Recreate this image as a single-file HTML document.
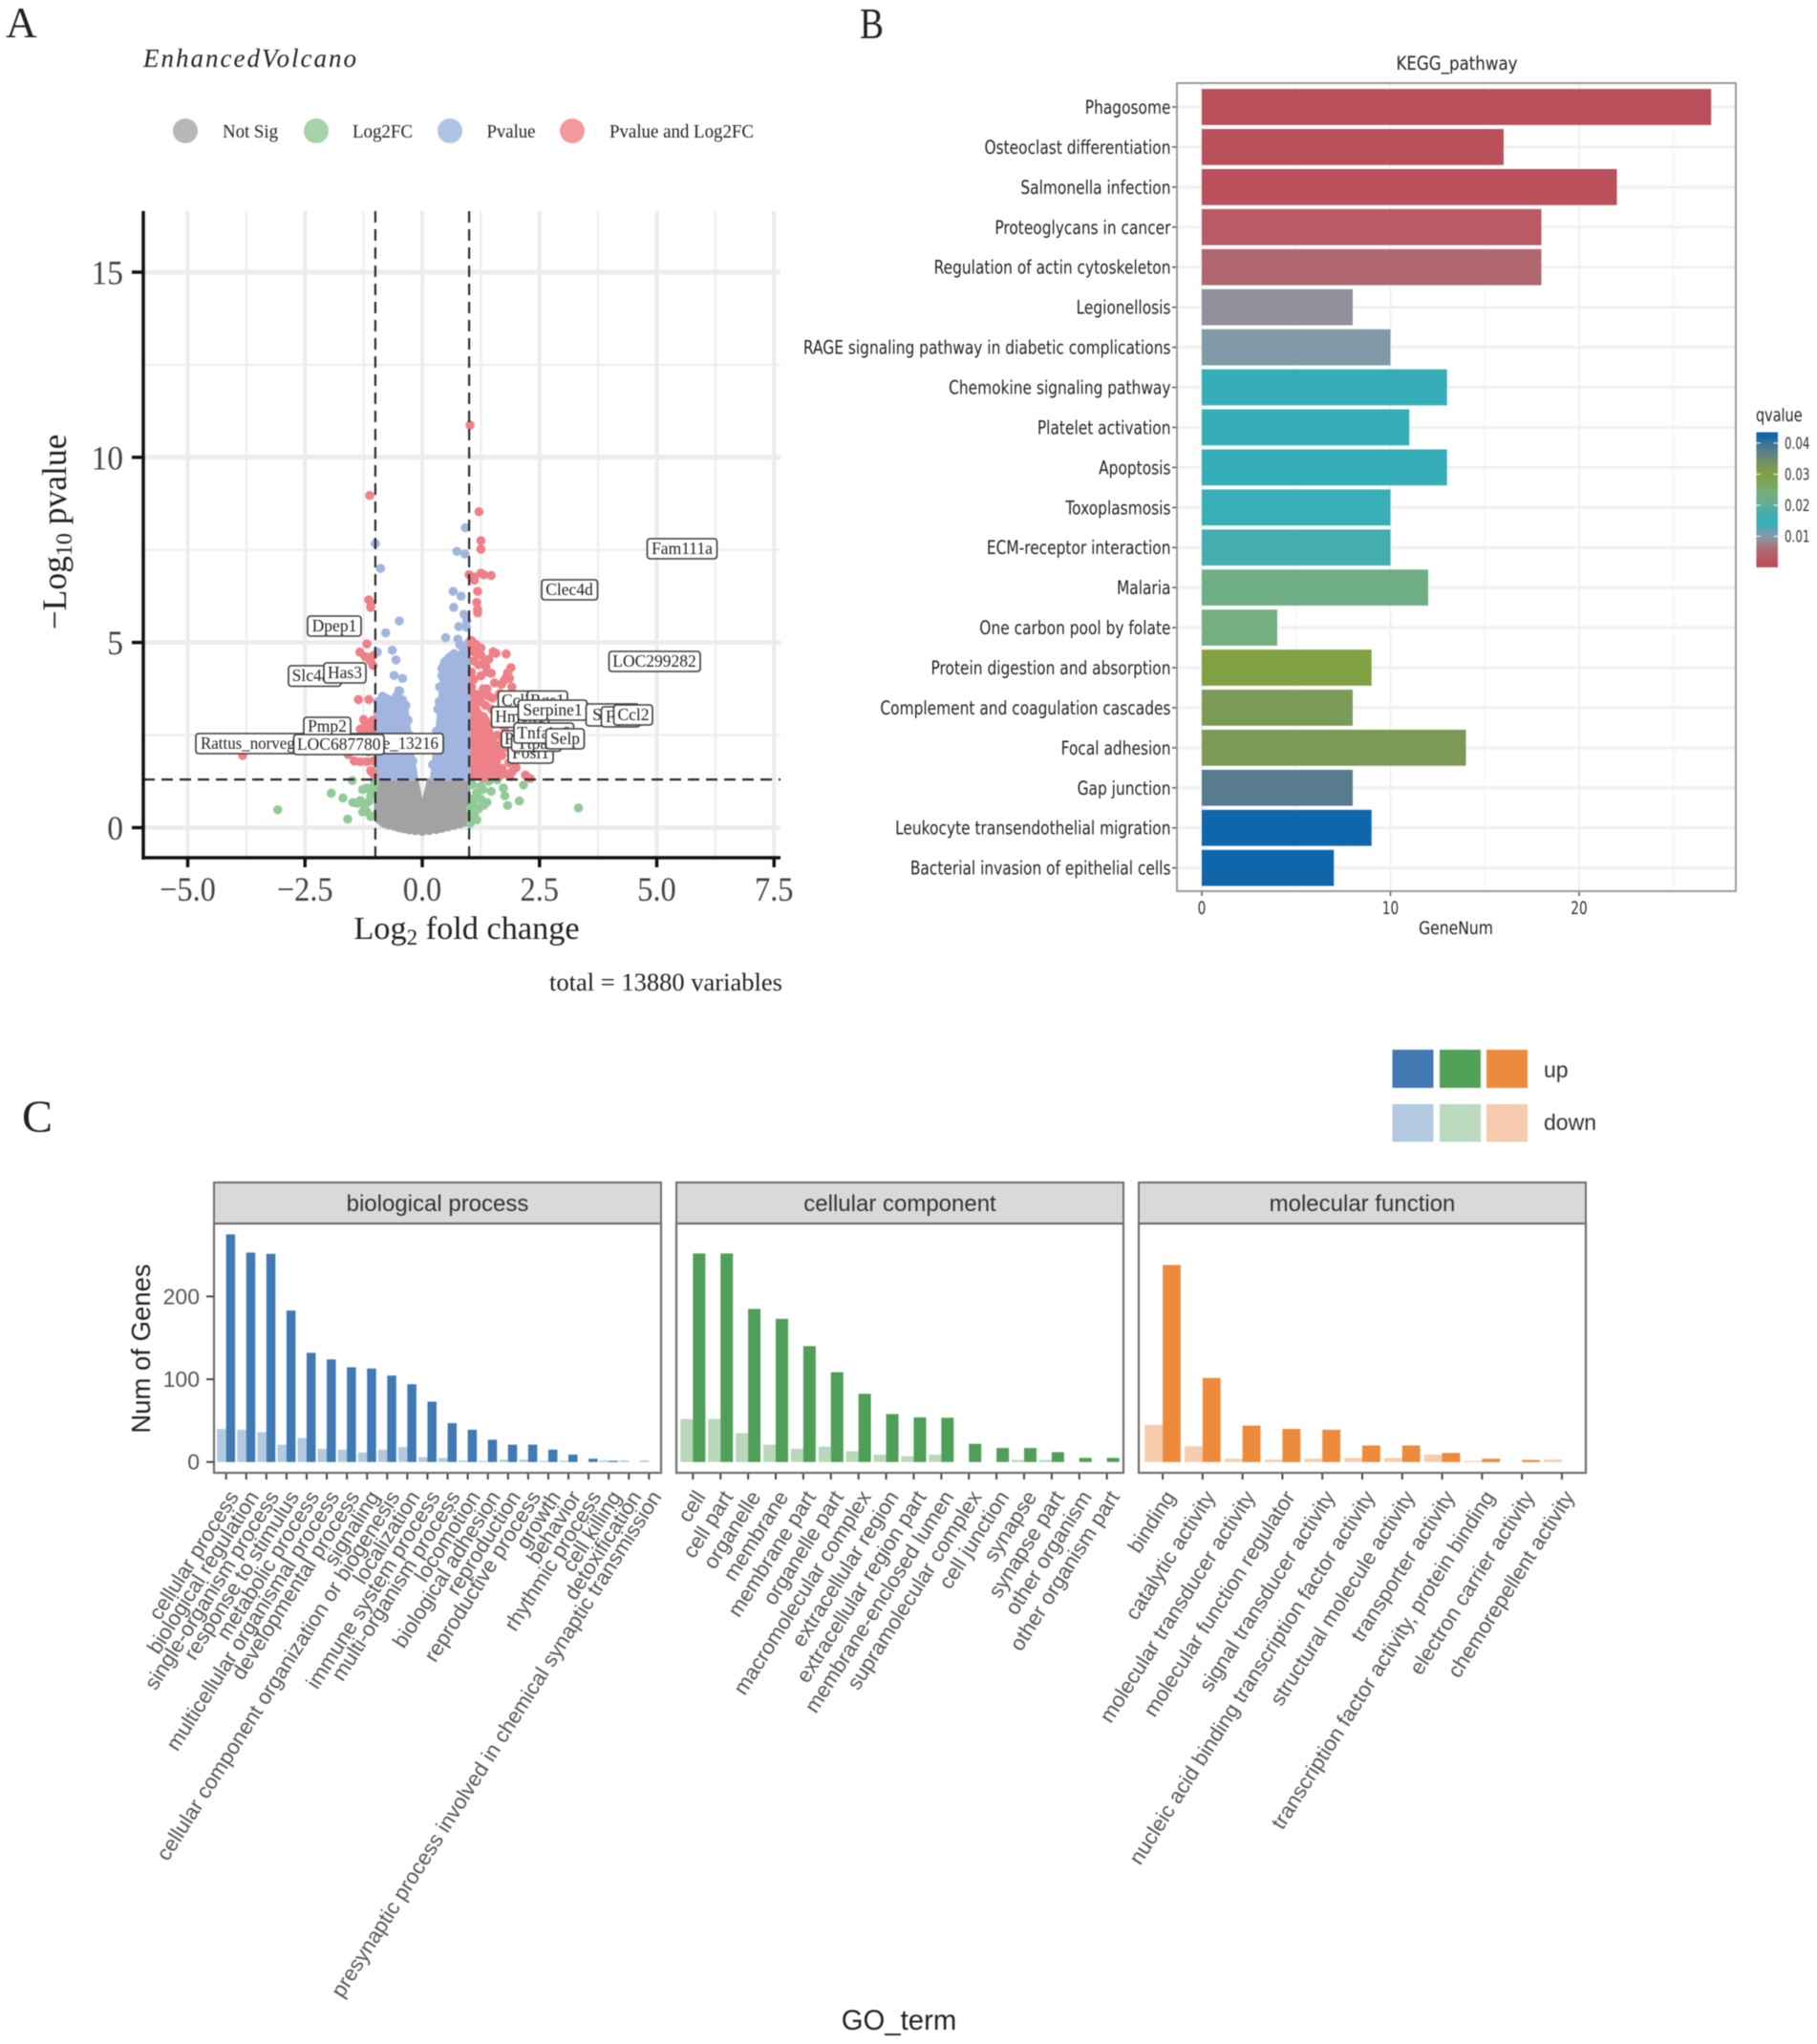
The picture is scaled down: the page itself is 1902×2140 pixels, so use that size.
<!DOCTYPE html>
<html lang="en">
<head>
<meta charset="utf-8">
<title>Volcano, KEGG and GO charts</title>
<style>
html,body{margin:0;padding:0;background:#fff;width:1902px;height:2140px;overflow:hidden}
#figure{display:block;filter:blur(0.5px)}
.serif{font-family:"Liberation Serif",serif}
.sans{font-family:"Liberation Sans",sans-serif}
.dejavu{font-family:"DejaVu Sans",sans-serif}
.gene rect{fill:#fff;stroke:#3a3a3a;stroke-width:1.6}
.gene text{font-family:"Liberation Serif",serif;font-size:17.5px;fill:#222;text-anchor:middle}
</style>
</head>
<body>
<svg id="figure" xmlns="http://www.w3.org/2000/svg" width="1902" height="2140" viewBox="0 0 1902 2140">
  <rect x="0" y="0" width="1902" height="2140" fill="#fff"/>
  <text class="serif" x="6" y="39" font-size="45" fill="#222">A</text>
  <text class="serif" x="900" y="40" font-size="45" fill="#222" textLength="25" lengthAdjust="spacingAndGlyphs">B</text>
  <text class="serif" x="23" y="1185" font-size="48" fill="#222">C</text>

  <text class="serif" x="150" y="70" font-size="27" font-style="italic" fill="#222" textLength="223" lengthAdjust="spacing">EnhancedVolcano</text>
  <g class="serif" font-size="20" fill="#222">
    <circle cx="194" cy="137" r="13" fill="#b7b7b7"/>
    <text x="233" y="144" textLength="58" lengthAdjust="spacingAndGlyphs">Not Sig</text>
    <circle cx="331" cy="137" r="13" fill="#a6d3a8"/>
    <text x="369" y="144" textLength="63" lengthAdjust="spacingAndGlyphs">Log2FC</text>
    <circle cx="471" cy="137" r="13" fill="#b1c4e6"/>
    <text x="509.5" y="144" textLength="51" lengthAdjust="spacingAndGlyphs">Pvalue</text>
    <circle cx="599" cy="137" r="13" fill="#f39a9d"/>
    <text x="638" y="144" textLength="151" lengthAdjust="spacingAndGlyphs">Pvalue and Log2FC</text>
  </g>
  <g id="volcano-grid"></g>
  <g id="volcano-density"></g>
  <g id="volcano-points"></g>
  <g id="volcano-axes"></g>
  <text class="serif" transform="translate(69,557) rotate(-90)" text-anchor="middle" font-size="35.5" fill="#222">−Log<tspan font-size="24" dy="6">10</tspan><tspan dy="-6"> pvalue</tspan></text>
  <text class="serif" x="488.5" y="983" text-anchor="middle" font-size="34.3" fill="#222">Log<tspan font-size="23" dy="6">2</tspan><tspan dy="-6"> fold change</tspan></text>
  <text class="serif" x="575" y="1037" font-size="26" fill="#222" textLength="244" lengthAdjust="spacingAndGlyphs">total = 13880 variables</text>

  <g>
    <g class="gene"><rect x="205" y="768" width="259" height="21" rx="3"/><text x="334.5" y="784" textLength="249" lengthAdjust="spacingAndGlyphs">Rattus_norvegicus_newGene_13216</text></g>
    <g class="gene"><rect x="318" y="751" width="49" height="21" rx="3"/><text x="342.5" y="766">Pmp2</text></g>
    <g class="gene"><rect x="307.5" y="769" width="94.5" height="21" rx="3"/><text x="354.7" y="785">LOC687780</text></g>
    <g class="gene"><rect x="302" y="697" width="55" height="21.5" rx="3"/><text x="329.5" y="713">Slc4a1</text></g>
    <g class="gene"><rect x="339" y="694" width="44" height="21" rx="3"/><text x="361" y="710">Has3</text></g>
    <g class="gene"><rect x="322" y="645" width="56" height="21" rx="3"/><text x="350" y="661">Dpep1</text></g>
    <g class="gene"><rect x="677.5" y="564" width="73" height="21" rx="3"/><text x="714" y="580">Fam111a</text></g>
    <g class="gene"><rect x="567" y="607" width="58.5" height="21" rx="3"/><text x="596" y="623">Clec4d</text></g>
    <g class="gene"><rect x="637.5" y="682" width="95.5" height="21" rx="3"/><text x="685" y="698">LOC299282</text></g>
    <g class="gene"><rect x="521.5" y="723.5" width="40" height="20" rx="3"/><text x="541.5" y="739">Ccl7</text></g>
    <g class="gene"><rect x="552" y="723.5" width="42" height="17" rx="3"/><text x="573" y="739">Rgs1</text></g>
    <g class="gene"><rect x="514.5" y="740" width="60" height="21.5" rx="3"/><text x="544.5" y="756">Hmox1</text></g>
    <g class="gene"><rect x="542.5" y="733" width="72" height="21" rx="3"/><text x="578.5" y="749">Serpine1</text></g>
    <g class="gene"><rect x="613.5" y="737" width="55.5" height="23" rx="3"/><text x="641" y="754">Socs3</text></g>
    <g class="gene"><rect x="629.5" y="740" width="40.5" height="21" rx="3"/><text x="650" y="756">Fgl2</text></g>
    <g class="gene"><rect x="642.5" y="738" width="40.5" height="21" rx="3"/><text x="663" y="754">Ccl2</text></g>
    <g class="gene"><rect x="532" y="778" width="47" height="21" rx="3"/><text x="555.5" y="794">Fosl1</text></g>
    <g class="gene"><rect x="525" y="765" width="45.5" height="17.5" rx="3"/><text x="547.5" y="779">Ptgs2</text></g>
    <g class="gene"><rect x="535.5" y="770" width="52" height="16.5" rx="3"/><text x="561.5" y="784">Ttpa1</text></g>
    <g class="gene"><rect x="538" y="757" width="62.5" height="21" rx="3"/><text x="569" y="773">Tnfaip6</text></g>
    <g class="gene"><rect x="571.5" y="763" width="40" height="21" rx="3"/><text x="591.5" y="779">Selp</text></g>
  </g>

  <text class="dejavu" transform="translate(1525,73) scale(0.85,1)" text-anchor="middle" font-size="19.6" fill="#222">KEGG_pathway</text>
  <g id="kegg-chart"></g>
  <text class="dejavu" transform="translate(1524,978) scale(0.82,1)" text-anchor="middle" font-size="19" fill="#222">GeneNum</text>
  <text class="dejavu" transform="translate(1838,441) scale(0.76,1)" font-size="19" fill="#222">qvalue</text>
  <defs><linearGradient id="qvalue-gradient" x1="0" y1="0" x2="0" y2="1"></linearGradient></defs>
  <rect x="1838.5" y="452.5" width="22.5" height="141.5" fill="url(#qvalue-gradient)"/>
  <g id="qvalue-ticks"></g>

  <g>
    <rect x="1457.5" y="1099" width="43" height="40" fill="#4379b2"/>
    <rect x="1507" y="1099" width="43" height="40" fill="#52a159"/>
    <rect x="1556" y="1099" width="43" height="40" fill="#ed8b3d"/>
    <rect x="1457.5" y="1156" width="43" height="39.5" fill="#b3c9e0"/>
    <rect x="1507" y="1156" width="43" height="39.5" fill="#bbd9bc"/>
    <rect x="1556" y="1156" width="43" height="39.5" fill="#f7ccae"/>
    <text class="sans" x="1616" y="1128" font-size="23" fill="#333">up</text>
    <text class="sans" x="1616" y="1183" font-size="23" fill="#333">down</text>
  </g>
  <g id="go-chart"></g>
  <text class="sans" transform="translate(157,1412) rotate(-90)" text-anchor="middle" font-size="27.5" fill="#222">Num of Genes</text>
  <text class="sans" x="941" y="2125" text-anchor="middle" font-size="29.3" fill="#222">GO_term</text>
</svg>
<script>
/* ---------- Volcano data: [log2 fold change, -log10 p] ---------- */
const volcanoRed = [
[1.02,10.87],[-1.12,8.97],[1.21,8.53],[1.25,7.75],[1.25,7.52],[1.0,6.83],[1.11,6.68],[1.25,6.87],[1.31,6.83],[1.47,6.81],[1.11,6.77],
[1.18,6.38],[1.16,6.08],[1.18,5.8],[1.18,5.89],[-1.14,6.15],[-1.10,5.95],[-1.09,6.05],[-1.18,4.96],[-1.33,4.74],[-1.18,4.6],[-1.05,4.64],
[-1.11,4.51],[-1.05,4.38],[-1.22,4.62],[-1.36,3.46],[-1.14,3.46],[-1.25,2.92],[-1.22,2.85],[-1.32,2.66],[-1.18,2.66],[-1.08,2.7],[-1.05,2.9],
[-1.28,2.5],[-1.15,2.5],[-1.05,2.5],[-1.42,2.4],[-1.2,2.35],[-1.1,2.3],[-1.03,2.2],[-1.5,2.1],[-1.58,1.97],[-1.3,2.1],[-1.15,2.05],[-1.45,1.8],
[-1.32,1.78],[-1.18,1.78],[-1.05,1.8],[-1.1,1.54],[-1.04,1.45],[-3.83,1.95],
[1.51,4.75],[1.57,4.71],[1.79,4.69],[1.33,4.47],[1.89,4.32],[1.38,4.2],[1.47,4.17],[1.8,4.08],[1.86,4.03],[1.91,3.8],[1.54,3.91],[1.69,3.87],
[1.15,4.95],[1.25,4.85],[1.1,4.75],[1.25,4.65],[1.42,4.55],[1.36,4.35],[1.82,4.18],[1.75,3.98],[1.65,3.62],[1.5,3.5],[1.72,3.3],[1.95,3.5],
[1.62,2.9],[1.75,2.7],[1.85,2.4],[1.95,2.3],[1.82,2.15],[1.9,1.95],[2.0,1.62],[1.85,1.75],[1.92,1.52],[1.7,1.6],[1.78,1.45],[1.87,1.38],[2.3,1.33],[2.2,1.42],
[1.48,3.2],[1.55,3.05],[1.6,2.5],[1.72,2.35],[1.66,2.15],[1.7,1.95],[1.58,1.7],[1.65,1.4],[1.45,1.4],[1.3,1.35],[1.48,1.62],[1.35,2.9],[1.44,2.75],[1.55,2.25],[1.42,2.05],[1.3,3.6],[1.38,3.75],
[1.05,4.9],[1.1,4.5],[1.05,4.2],[1.2,4.4],[1.1,4.0],[1.25,4.1],[1.05,3.8],[1.3,3.75],[1.15,3.6],[1.25,3.4],[1.35,3.3],[1.42,3.55],[1.3,3.0],[1.18,4.7],[1.05,5.05]
];
const volcanoBlue = [
[0.92,8.1],[-1.0,7.67],[0.74,7.46],[0.91,7.39],[-0.89,7.0],[0.66,6.38],[0.83,6.25],[0.67,5.95],[0.89,5.76],[0.95,5.58],[0.78,5.43],[0.94,5.41],
[-0.49,5.58],[-0.78,5.26],[0.50,5.13],[0.76,5.09],[0.8,4.94],[0.89,4.81],[-0.64,4.79],[-0.96,4.74],[-0.56,4.53],[-0.6,4.11],[-0.42,4.03],[-0.48,3.69],[-0.95,3.1],[-0.66,3.0],[0.47,4.45],[0.6,4.62],[0.36,3.4],[0.42,4.1],
[-0.95,3.4],[-0.85,3.55],[-0.78,3.5],[-0.7,3.45],[-0.55,3.55],[-0.5,3.7],[-0.42,3.45],[-0.35,3.3],[-0.3,2.9],[-0.27,2.5],[-0.25,2.2],[-0.2,1.8],
[0.5,4.5],[0.58,4.6],[0.68,4.7],[0.72,4.55],[0.42,4.3],[0.37,3.8],[0.33,3.2],[0.3,2.6],[0.27,2.2],[0.22,1.7]
];
const volcanoGrey = [
[-0.98,0.35],[-0.9,0.2],[-0.82,0.12],[-0.72,0.07],[-0.6,0.04],[-0.5,0.0],[-0.4,-0.03],[-0.28,-0.06],[-0.15,-0.08],[0,-0.1],[0.15,-0.08],[0.3,-0.05],[0.42,-0.02],[0.55,0.02],[0.68,0.06],[0.8,0.1],[0.92,0.15],[0.98,0.18]
];
const volcanoGreen = [
[-1.49,1.27],[-1.94,0.93],[-1.69,0.80],[-3.08,0.48],[-1.59,0.23],[-1.48,0.68],[-1.39,0.66],[-1.27,1.03],[-1.18,1.07],[-1.32,0.73],[-1.23,0.6],[-1.18,0.43],[-1.1,0.3],[-1.1,0.86],[-1.05,1.03],[-1.14,0.7],[-1.27,0.43],[-1.02,1.2],
[1.07,1.16],[1.25,1.12],[1.6,1.29],[1.42,1.25],[1.47,0.98],[1.73,1.07],[1.76,0.86],[2.16,1.15],[2.07,0.72],[1.82,0.6],[3.33,0.53],[1.38,0.68],[1.25,0.77],[1.16,0.94],[1.07,0.77],[1.2,0.51],[1.11,0.34],[1.02,0.12],[1.16,0.21],[1.29,1.03],[1.11,0.6],[1.02,0.51],[1.31,0.6]
];
/* Outlines of the regions too dense to separate into single points: [log2FC, -log10 p] */
const denseGrey = [[-1,1.3],[-0.11,1.3],[0,0.6],[0.13,1.3],[1,1.3],[1,0.1],[0.67,0.1],[0,-0.06],[-0.65,0.08],[-0.92,0.27],[-1,0.47]];
const denseBlueLeft = [[-1,1.3],[-1,3.35],[-0.87,3.56],[-0.7,3.5],[-0.64,3.2],[-0.58,3.5],[-0.5,3.6],[-0.34,3.4],[-0.28,2.75],[-0.21,2.06],[-0.11,1.3]];
const denseBlueRight = [[0.19,1.3],[0.32,2.75],[0.39,3.87],[0.45,4.29],[0.54,4.5],[0.76,4.6],[0.85,4.9],[1,5.15],[1,1.3]];
const denseRed = [[1,1.3],[1,4.0],[1.1,3.7],[1.2,3.2],[1.38,2.9],[1.55,2.4],[1.65,1.9],[1.62,1.37]];
const volcanoXMajor = [-5,-2.5,0,2.5,5,7.5];
const volcanoXMinor = [-3.75,-1.25,1.25,3.75,6.25];
const volcanoYMajor = [0,5,10,15];
const volcanoYMinor = [2.5,7.5,12.5];
const volcanoXLabels = ['−5.0','−2.5','0.0','2.5','5.0','7.5'];
const volcanoYLabels = ['0','5','10','15'];
const pCutoff = 1.3;
const fcCutoffs = [-1,1];

/* ---------- KEGG data ---------- */
const keggTerms = ['Phagosome','Osteoclast differentiation','Salmonella infection','Proteoglycans in cancer','Regulation of actin cytoskeleton','Legionellosis','RAGE signaling pathway in diabetic complications','Chemokine signaling pathway','Platelet activation','Apoptosis','Toxoplasmosis','ECM-receptor interaction','Malaria','One carbon pool by folate','Protein digestion and absorption','Complement and coagulation cascades','Focal adhesion','Gap junction','Leukocyte transendothelial migration','Bacterial invasion of epithelial cells'];
const keggCounts = [27,16,22,18,18,8,10,13,11,13,10,10,12,4,9,8,14,8,9,7];
const keggQvalues = [0.001,0.001,0.002,0.003,0.0055,0.0085,0.0105,0.014,0.014,0.014,0.0145,0.017,0.022,0.0235,0.03,0.032,0.032,0.038,0.0425,0.0425];
const keggXTicks = [0,10,20];
const keggXMinor = [5,15,25];
const qvalueTicks = [0.01,0.02,0.03,0.04];

/* ---------- GO data ---------- */
const bpTerms = ['cellular process','biological regulation','single-organism process','response to stimulus','metabolic process','multicellular organismal process','developmental process','signaling','cellular component organization or biogenesis','localization','immune system process','multi-organism process','locomotion','biological adhesion','reproduction','reproductive process','growth','behavior','rhythmic process','cell killing','detoxification','presynaptic process involved in chemical synaptic transmission'];
const bpUp = [275,253,251.5,183,132,124,114.5,113,104.5,94,73,47,39,27,21,21,15,9,4,1.5,0,0];
const bpDown = [40,39,36,21,29,16,15,11.5,15,18,6,5,2,1.5,3,3,1.5,1.5,0,2,2,2];
const ccTerms = ['cell','cell part','organelle','membrane','membrane part','organelle part','macromolecular complex','extracellular region','extracellular region part','membrane-enclosed lumen','supramolecular complex','cell junction','synapse','synapse part','other organism','other organism part'];
const ccUp = [252,252,185,173,140,108.5,82.5,58,54,53.5,22,17,17,12,5,5];
const ccDown = [52,52,35,21,16,18.5,13,9,7,9,0,0,2.5,2.5,0,0];
const mfTerms = ['binding','catalytic activity','molecular transducer activity','molecular function regulator','signal transducer activity','nucleic acid binding transcription factor activity','structural molecule activity','transporter activity','transcription factor activity, protein binding','electron carrier activity','chemorepellent activity'];
const mfUp = [238,101.5,44,40,39,20,20,11,4,2.5,0];
const mfDown = [45,19,4,3,4,5,5,9,1.5,0,3];
const goYTicks = [0,100,200];

/* ---------- helpers ---------- */
const NS = 'http://www.w3.org/2000/svg';
function mk(tag, attrs, parent) {
  const el = document.createElementNS(NS, tag);
  for (const k in attrs) el.setAttribute(k, attrs[k]);
  parent.appendChild(el);
  return el;
}
function label(parent, str, x, y, size, family, fill, anchor, sx, rot) {
  const t = mk('text', {transform:'translate(' + x + ',' + y + ') rotate(' + rot + ') scale(' + sx + ',1)', 'font-size':size, 'font-family':family, fill:fill, 'text-anchor':anchor}, parent);
  t.textContent = str;
  return t;
}
const SERIF = '"Liberation Serif",serif';
const SANS = '"Liberation Sans",sans-serif';
const DEJAVU = '"DejaVu Sans",sans-serif';

/* ---------- Volcano ---------- */
const xV = v => 442 + v * 49.1;
const yV = v => 866.5 - v * 38.77;
const vLeft = 150, vRight = 817, vTop = 221, vBottom = 898;
const vGrid = document.getElementById('volcano-grid');
volcanoYMinor.forEach(v => {
  const l = mk('line', {x1:vLeft, x2:vRight, y1:yV(v), y2:yV(v), stroke:'#efefef', 'stroke-width':2.5}, vGrid);
  
  
});
volcanoXMinor.forEach(v => {
  const l = mk('line', {x1:xV(v), x2:xV(v), y1:vTop, y2:vBottom, stroke:'#efefef', 'stroke-width':2.5}, vGrid);
  
  
});
volcanoYMajor.forEach(v => {
  const l = mk('line', {x1:vLeft, x2:vRight, y1:yV(v), y2:yV(v), stroke:'#ececec', 'stroke-width':5}, vGrid);
  
  
});
volcanoXMajor.forEach(v => {
  const l = mk('line', {x1:xV(v), x2:xV(v), y1:vTop, y2:vBottom, stroke:'#ececec', 'stroke-width':4}, vGrid);
  
  
});

const vDense = document.getElementById('volcano-density');
function densePolygon(points, color, name) {
  const str = points.map(p => xV(p[0]) + ',' + yV(p[1])).join(' ');
  const poly = mk('polygon', {points:str, fill:color, stroke:color, 'stroke-width':3, 'stroke-linejoin':'round'}, vDense);
  
  
}
densePolygon(denseRed, '#ee8087', 'dense-region-pvalue-and-log2fc');
densePolygon(denseGrey, '#a2a2a2', 'dense-region-not-sig');
densePolygon(denseBlueLeft, '#a2b5de', 'dense-region-pvalue-left');
densePolygon(denseBlueRight, '#a2b5de', 'dense-region-pvalue-right');

const vPoints = document.getElementById('volcano-points');
function scatter(points, color, name) {
  points.forEach(p => {
    const c = mk('circle', {cx:xV(p[0]), cy:yV(p[1]), r:4.8, fill:color}, vPoints);
    
    
  });
}
scatter(volcanoGrey, '#a2a2a2', 'point-not-sig');
scatter(volcanoGreen, '#92ca98', 'point-log2fc');
scatter(volcanoBlue, '#a2b5de', 'point-pvalue');
scatter(volcanoRed, '#ee8087', 'point-pvalue-and-log2fc');

const vAxes = document.getElementById('volcano-axes');
fcCutoffs.forEach(v => {
  const l = mk('line', {x1:xV(v), x2:xV(v), y1:vTop, y2:vBottom, stroke:'#2a2a2a', 'stroke-width':2.2, 'stroke-dasharray':'12 7'}, vAxes);
  
  
});
const pLine = mk('line', {x1:vLeft, x2:vRight, y1:yV(pCutoff), y2:yV(pCutoff), stroke:'#2a2a2a', 'stroke-width':2.2, 'stroke-dasharray':'12 7'}, vAxes);


const vYAxis = mk('line', {x1:vLeft, x2:vLeft, y1:vTop, y2:vBottom + 2, stroke:'#111', 'stroke-width':3.5}, vAxes);


const vXAxis = mk('line', {x1:vLeft, x2:vRight, y1:vBottom, y2:vBottom, stroke:'#111', 'stroke-width':3.5}, vAxes);


volcanoXMajor.forEach((v, i) => {
  const t = mk('line', {x1:xV(v), x2:xV(v), y1:vBottom, y2:vBottom + 10, stroke:'#111', 'stroke-width':3.5}, vAxes);
  
  
  const s = label(vAxes, volcanoXLabels[i], xV(v), 943, 36, SERIF, '#444', 'middle', 0.9, 0);
  
  
});
volcanoYMajor.forEach((v, i) => {
  const t = mk('line', {x1:138, x2:vLeft, y1:yV(v), y2:yV(v), stroke:'#111', 'stroke-width':3.5}, vAxes);
  
  
  const s = label(vAxes, volcanoYLabels[i], 129, yV(v) + 12.5, 36, SERIF, '#444', 'end', 0.93, 0);
  
  
});

/* ---------- KEGG ---------- */
const qStops = [[0,'#b9505c'],[0.002,'#b9505c'],[0.003,'#b95a64'],[0.0055,'#b0666f'],[0.0085,'#92909c'],[0.0105,'#7f9aa6'],[0.014,'#36aeb8'],[0.017,'#43adb0'],[0.022,'#6fad85'],[0.0235,'#75ae80'],[0.03,'#7fa043'],[0.032,'#7b9957'],[0.038,'#587b8d'],[0.0425,'#0f66aa']];
function hexToRgb(h) {
  return [parseInt(h.slice(1,3),16), parseInt(h.slice(3,5),16), parseInt(h.slice(5,7),16)];
}
function qColor(q) {
  for (let i = 1; i < qStops.length; i++) {
    if (q <= qStops[i][0]) {
      const a = qStops[i-1], b = qStops[i];
      const f = (q - a[0]) / (b[0] - a[0]);
      const ca = hexToRgb(a[1]), cb = hexToRgb(b[1]);
      return 'rgb(' + ca.map((c, j) => Math.round(c + (cb[j] - c) * f)).join(',') + ')';
    }
  }
  return qStops[qStops.length - 1][1];
}
const qMax = 0.0435;
const grad = document.getElementById('qvalue-gradient');
qStops.slice().reverse().forEach(s => {
  mk('stop', {offset:(1 - s[0] / qMax), 'stop-color':s[1]}, grad);
});
const yQ = q => 594 - q / qMax * 141.5;
const qTicksGroup = document.getElementById('qvalue-ticks');
qvalueTicks.forEach(q => {
  const l1 = mk('line', {x1:1838.5, x2:1843, y1:yQ(q), y2:yQ(q), stroke:'#fff', 'stroke-width':1}, qTicksGroup);
  
  
  const l2 = mk('line', {x1:1856.5, x2:1861, y1:yQ(q), y2:yQ(q), stroke:'#fff', 'stroke-width':1}, qTicksGroup);
  
  
  const s = label(qTicksGroup, q.toFixed(2), 1868, yQ(q) + 6, 16.5, DEJAVU, '#333', 'start', 0.72, 0);
  
  
});

const kG = document.getElementById('kegg-chart');
const kLeft = 1232, kRight = 1817, kTop = 87, kBottom = 933;
const xK = v => 1258 + v * 19.75;
const yK = i => 112 + i * 41.93;
const kBg = mk('rect', {x:kLeft, y:kTop, width:kRight - kLeft, height:kBottom - kTop, fill:'#fff'}, kG);


keggXMinor.forEach(v => {
  const l = mk('line', {x1:xK(v), x2:xK(v), y1:kTop, y2:kBottom, stroke:'#f3f3f3', 'stroke-width':1}, kG);
  
  
});
keggXTicks.forEach(v => {
  const l = mk('line', {x1:xK(v), x2:xK(v), y1:kTop, y2:kBottom, stroke:'#ececec', 'stroke-width':1.5}, kG);
  
  
  const t = mk('line', {x1:xK(v), x2:xK(v), y1:kBottom, y2:kBottom + 5, stroke:'#555', 'stroke-width':1.5}, kG);
  
  
  const s = label(kG, String(v), xK(v), 957, 19, DEJAVU, '#333', 'middle', 0.72, 0);
  
  
});
keggTerms.forEach((term, i) => {
  const g = mk('line', {x1:kLeft, x2:kRight, y1:yK(i), y2:yK(i), stroke:'#f0f0f0', 'stroke-width':3}, kG);
  
  
  const b = mk('rect', {x:xK(0), y:yK(i) - 18.87, width:xK(keggCounts[i]) - xK(0), height:37.74, fill:qColor(keggQvalues[i])}, kG);
  
  
  const t = mk('line', {x1:kLeft - 5, x2:kLeft, y1:yK(i), y2:yK(i), stroke:'#555', 'stroke-width':1.5}, kG);
  
  
  const s = label(kG, term, 1225.5, yK(i) + 7, 19.6, DEJAVU, '#222', 'end', 0.787, 0);
  
  
});
const kFrame = mk('rect', {x:kLeft, y:kTop, width:kRight - kLeft, height:kBottom - kTop, fill:'none', stroke:'#9a9a9a', 'stroke-width':2}, kG);



/* ---------- GO ---------- */
const goG = document.getElementById('go-chart');
const yGo = v => 1530.7 - v * 0.8667;
const goStripTop = 1238, goPanelTop = 1281, goPanelBottom = 1542;
function goPanel(title, terms, up, down, left, right, upColor, downColor, key) {
  const w = right - left;
  const step = w / (terms.length + 0.2);
  const xC = i => left + 0.6 * step + i * step;
  const barW = 0.45 * step;
  const strip = mk('rect', {x:left, y:goStripTop, width:w, height:goPanelTop - goStripTop, fill:'#d9d9d9', stroke:'#6e6e6e', 'stroke-width':2}, goG);
  
  
  const stripText = label(goG, title, left + w / 2, 1268, 24, SANS, '#333', 'middle', 1, 0);
  
  
  terms.forEach((term, i) => {
    const d = mk('rect', {x:xC(i) - barW, y:yGo(down[i]), width:barW, height:yGo(0) - yGo(down[i]), fill:downColor}, goG);
    
    
    const u = mk('rect', {x:xC(i), y:yGo(up[i]), width:barW, height:yGo(0) - yGo(up[i]), fill:upColor}, goG);
    
    
    const t = mk('line', {x1:xC(i), x2:xC(i), y1:goPanelBottom, y2:goPanelBottom + 7, stroke:'#444', 'stroke-width':2}, goG);
    
    
    const s = label(goG, term, xC(i) + 14, 1567, 22.3, SANS, '#555', 'end', 1, -57.5);
    
    
  });
  const frame = mk('rect', {x:left, y:goPanelTop, width:w, height:goPanelBottom - goPanelTop, fill:'none', stroke:'#6e6e6e', 'stroke-width':2.2}, goG);
  
  
}
goPanel('biological process', bpTerms, bpUp, bpDown, 224, 692, '#3f7ab5', '#b3c9e0', 'biological-process');
goPanel('cellular component', ccTerms, ccUp, ccDown, 708, 1176, '#4f9f59', '#b9d8ba', 'cellular-component');
goPanel('molecular function', mfTerms, mfUp, mfDown, 1192, 1660, '#ed8a3c', '#f6ccad', 'molecular-function');
goYTicks.forEach(v => {
  const t = mk('line', {x1:216, x2:224, y1:yGo(v), y2:yGo(v), stroke:'#444', 'stroke-width':2}, goG);
  
  
  const s = label(goG, String(v), 209, yGo(v) + 8, 23, SANS, '#555', 'end', 1, 0);
  
  
});
</script>
</body>
</html>
